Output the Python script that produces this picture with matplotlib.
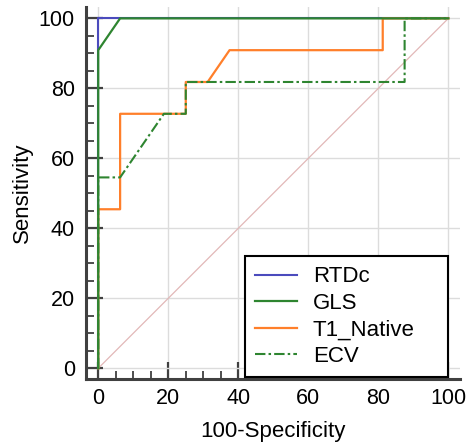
import numpy as np
import matplotlib
matplotlib.use('Agg')
import matplotlib.pyplot as plt
from matplotlib.ticker import MultipleLocator

# ROC curve points (100-Specificity, Sensitivity)
rtdc_x = [0, 0, 100]
rtdc_y = [0, 100, 100]

gls_x = [0, 0, 6.25, 100]
gls_y = [0, 90.91, 100, 100]

t1_x = [0, 0, 6.25, 6.25, 25, 25, 31.25, 37.5, 81.25, 81.25, 100]
t1_y = [0, 45.45, 45.45, 72.73, 72.73, 81.82, 81.82, 90.91, 90.91, 100, 100]

ecv_x = [0, 0, 6.25, 18.75, 25, 25, 87.5, 87.5, 100]
ecv_y = [0, 54.55, 54.55, 72.73, 72.73, 81.82, 81.82, 100, 100]

labels = ['RTDc', 'GLS', 'T1_Native', 'ECV']
colors = ['#4b4bbd', '#2e8530', '#ff7f2a', '#2e8530']

plt.rcParams['font.family'] = ['Liberation Sans', 'DejaVu Sans']

fig = plt.figure(figsize=(4.66, 4.48), dpi=100)
ax = fig.add_axes([0.1845, 0.1533, 0.8025, 0.8307])

# reference diagonal
ax.plot([0, 100], [0, 100], color='#e2b8b8', lw=0.9, zorder=1)

ax.plot(rtdc_x, rtdc_y, color=colors[0], lw=1.5, label=labels[0], zorder=3)
ax.plot(gls_x, gls_y, color=colors[1], lw=1.6, label=labels[1], zorder=4)
ax.plot(t1_x, t1_y, color=colors[2], lw=1.6, label=labels[2], zorder=3)
ax.plot(ecv_x, ecv_y, color=colors[3], lw=1.5, ls=(0, (5, 1.5, 1.2, 1.5)),
        label=labels[3], zorder=5)

ax.set_xlim(-3.5, 103.3)
ax.set_ylim(-3.15, 103.2)
ax.xaxis.set_major_locator(MultipleLocator(20))
ax.yaxis.set_major_locator(MultipleLocator(20))
ax.xaxis.set_minor_locator(MultipleLocator(5))
ax.yaxis.set_minor_locator(MultipleLocator(5))

ax.grid(True, which='major', color='#dcdcdc', lw=1.0, zorder=0)
ax.set_axisbelow(True)

for side in ['top', 'right']:
    ax.spines[side].set_visible(False)
for side in ['left', 'bottom']:
    ax.spines[side].set_color('#404040')
    ax.spines[side].set_linewidth(2.2)

ax.tick_params(which='major', direction='in', length=12, width=1.6, color='#404040',
               labelsize=15.5, pad=8)
ax.tick_params(which='minor', direction='in', length=6, width=1.3, color='#404040')
ax.tick_params(axis='x', which='major', pad=6)

ax.set_xlabel('100-Specificity', fontsize=16, labelpad=9)
ax.set_ylabel('Sensitivity', fontsize=16, labelpad=4)

# legend box stretched to the width seen in the original
leg = ax.legend(loc='lower left', bbox_to_anchor=(0.425, 0.006, 0.543, 0.3),
                mode='expand', fontsize=16,
                frameon=True, fancybox=False, framealpha=1, edgecolor='black',
                handlelength=1.9, handletextpad=0.7, labelspacing=0.25,
                borderpad=0.45, borderaxespad=0.0)
leg.get_frame().set_linewidth(1.5)

fig.savefig('out.png', dpi=100)
